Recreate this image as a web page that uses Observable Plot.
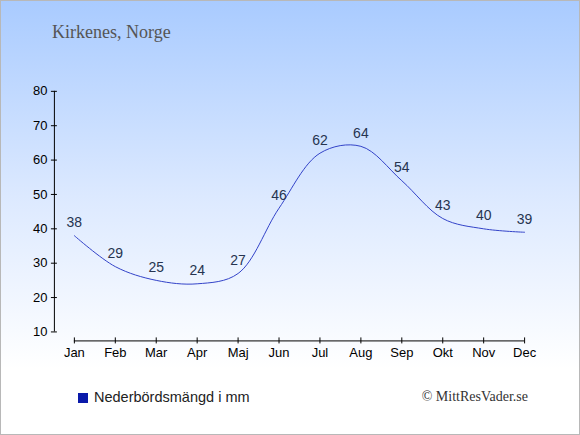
<!DOCTYPE html>
<html>
<head>
<meta charset="utf-8">
<script src="https://cdn.jsdelivr.net/npm/d3@7"></script>
<script src="https://cdn.jsdelivr.net/npm/@observablehq/plot@0.6"></script>
<style>
  html, body { margin: 0; padding: 0; }
  #wrap {
    position: relative; width: 580px; height: 435px; box-sizing: border-box;
    border: 1px solid #b8b8b8; overflow: hidden;
    background: linear-gradient(to bottom, #a9cbff 0%, #dce9ff 45%, #ffffff 85%, #ffffff 100%);
  }
  #chart { position: absolute; left: -1px; top: -1px; }
  #title { position: absolute; left: 51px; top: 22px; font: 18px/1 "Liberation Serif", "Times New Roman", serif; color: #555; white-space: nowrap; }
  #legend { position: absolute; left: 77px; top: 389px; font: 14.5px/1 "Liberation Sans", Arial, sans-serif; color: #222; white-space: nowrap; }
  #legend .sw { display: inline-block; width: 10px; height: 10px; background: #0a1aaa; margin-right: 6px; vertical-align: -1px; }
  #credit { position: absolute; right: 51px; top: 389px; font: 14px/1 "Liberation Serif", "Times New Roman", serif; color: #333; white-space: nowrap; }
</style>
</head>
<body>
<div id="wrap">
  <div id="chart"></div>
  <div id="title">Kirkenes, Norge</div>
  <div id="legend"><span class="sw"></span>Nederbördsmängd i mm</div>
  <div id="credit">© MittResVader.se</div>
</div>
<script>
const months = ["Jan","Feb","Mar","Apr","Maj","Jun","Jul","Aug","Sep","Okt","Nov","Dec"];
const precipitation = [38, 29, 25, 24, 27, 46, 62, 64, 54, 43, 40, 39];
const yTicks = [10, 20, 30, 40, 50, 60, 70, 80];

const data = months.map((m, i) => ({month: m, value: precipitation[i]}));

const chart = Plot.plot({
  width: 580,
  height: 435,
  marginLeft: 57,
  marginRight: 55,
  marginTop: 91,
  marginBottom: 103,
  style: {background: "transparent", fontFamily: "'Liberation Sans', Arial, sans-serif", color: "#000"},
  x: {type: "point", domain: months, range: [74, 525], padding: 0, label: null},
  y: {domain: [10, 80], label: null},
  marks: [
    Plot.axisY(yTicks, {tickSize: 6, tickPadding: 4, fontSize: 13, fill: "#000", stroke: "#000", label: null}),
    Plot.axisX({tickSize: 6, dy: 6, tickPadding: 4, fontSize: 13, fill: "#000", stroke: "#000", label: null}),
    Plot.ruleX([months[0]], {dx: -20, y1: 10, y2: 80, stroke: "#000"}),
    Plot.ruleY([10], {x1: () => months[0], x2: () => months[months.length - 1], dy: 9, stroke: "#000"}),
    Plot.line(data, {x: "month", y: "value", curve: "catmull-rom", stroke: "#3242c8", strokeWidth: 1}),
    Plot.text(data, {x: "month", y: "value", text: d => String(d.value), dy: -13, fontSize: 14, fill: "#263450"})
  ]
});
document.getElementById("chart").appendChild(chart);
</script>
</body>
</html>
